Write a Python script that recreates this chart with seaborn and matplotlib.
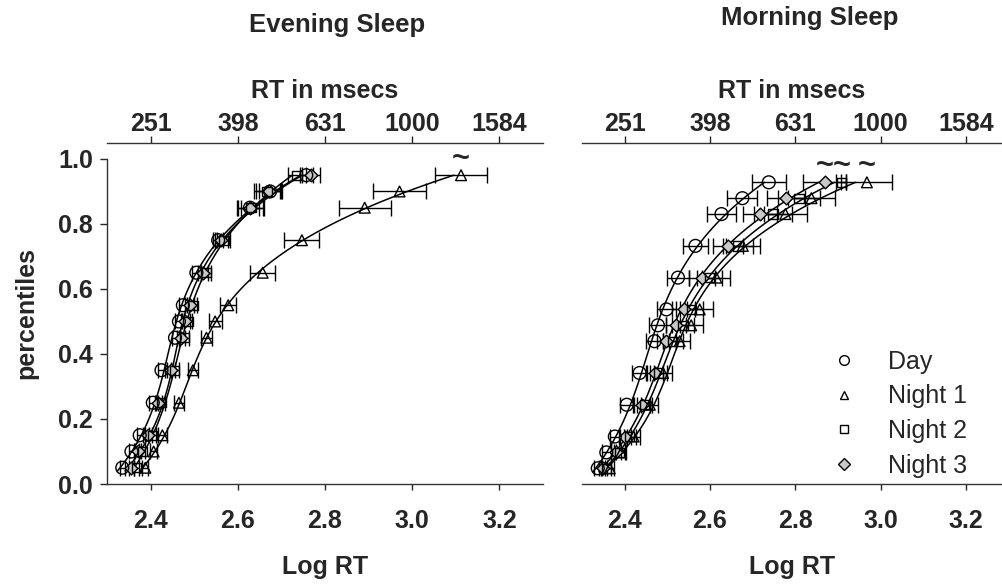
import numpy as np
import pandas as pd
import seaborn as sns
import matplotlib
matplotlib.use("Agg")
import matplotlib.pyplot as plt
from matplotlib.lines import Line2D

# ---------------- data ----------------
percentiles = [0.05, 0.10, 0.15, 0.25, 0.35, 0.45, 0.50, 0.55, 0.65, 0.75, 0.85, 0.90, 0.95]
series_names = ["Day", "Night 1", "Night 2", "Night 3"]

# Evening sleep (log RT)
eve_day = [2.335, 2.356, 2.375, 2.405, 2.425, 2.456, 2.465, 2.474, 2.505, 2.555, 2.628, 2.674, 2.757]
eve_n1 = [2.388, 2.407, 2.427, 2.465, 2.497, 2.528, 2.548, 2.578, 2.657, 2.747, 2.891, 2.971, 3.112]
eve_n2 = [2.368, 2.381, 2.405, 2.425, 2.455, 2.477, 2.486, 2.497, 2.527, 2.568, 2.630, 2.667, 2.736]
eve_n3 = [2.356, 2.372, 2.395, 2.418, 2.447, 2.470, 2.480, 2.490, 2.520, 2.562, 2.628, 2.672, 2.768]
eve_day_err = [0.006, 0.006, 0.007, 0.008, 0.008, 0.008, 0.008, 0.009, 0.010, 0.012, 0.020, 0.025, 0.015]
eve_n1_err = [0.007, 0.008, 0.010, 0.012, 0.012, 0.012, 0.015, 0.019, 0.029, 0.040, 0.060, 0.060, 0.060]
eve_n2_err = [0.006, 0.007, 0.008, 0.009, 0.009, 0.010, 0.010, 0.010, 0.012, 0.015, 0.030, 0.030, 0.020]
eve_n3_err = [0.006, 0.007, 0.008, 0.009, 0.009, 0.010, 0.010, 0.010, 0.012, 0.015, 0.030, 0.030, 0.020]

# Morning sleep (log RT)
mor_day = [2.337, 2.357, 2.377, 2.405, 2.435, 2.470, 2.478, 2.498, 2.525, 2.566, 2.627, 2.676, 2.738]
mor_n1 = [2.365, 2.392, 2.421, 2.459, 2.490, 2.529, 2.556, 2.576, 2.615, 2.677, 2.777, 2.838, 2.968]
mor_n2 = [2.357, 2.388, 2.412, 2.447, 2.480, 2.513, 2.537, 2.556, 2.599, 2.666, 2.748, 2.809, 2.908]
mor_n3 = [2.349, 2.380, 2.400, 2.441, 2.470, 2.498, 2.520, 2.538, 2.582, 2.642, 2.718, 2.779, 2.869]
mor_day_err = [0.008, 0.010, 0.012, 0.015, 0.018, 0.020, 0.020, 0.022, 0.025, 0.030, 0.035, 0.035, 0.040]
mor_n1_err = [0.010, 0.012, 0.015, 0.020, 0.022, 0.025, 0.027, 0.030, 0.033, 0.040, 0.050, 0.055, 0.060]
mor_n2_err = [0.010, 0.012, 0.014, 0.018, 0.020, 0.023, 0.025, 0.027, 0.030, 0.036, 0.045, 0.050, 0.012]
mor_n3_err = [0.010, 0.012, 0.014, 0.018, 0.020, 0.022, 0.024, 0.026, 0.030, 0.035, 0.040, 0.045, 0.050]

# tilde markers (series flagged at the 95th percentile)
eve_tilde = ["Night 1"]
mor_tilde = ["Night 3", "Night 2", "Night 1"]

bottom_ticks = [2.4, 2.6, 2.8, 3.0, 3.2]
bottom_labels = ["2.4", "2.6", "2.8", "3.0", "3.2"]
top_labels = ["251", "398", "631", "1000", "1584"]
y_ticks = [0.0, 0.2, 0.4, 0.6, 0.8, 1.0]
y_labels = ["0.0", "0.2", "0.4", "0.6", "0.8", "1.0"]

# ---------------- style ----------------
sns.set_theme(style="ticks")
plt.rcParams["font.family"] = ["Liberation Sans", "DejaVu Sans"]
plt.rcParams["font.weight"] = "bold"

FS = 18
styles = {
    "Day": dict(marker="o", s=85, fc="none"),
    "Night 1": dict(marker="^", s=60, fc="none"),
    "Night 2": dict(marker="s", s=45, fc="none"),
    "Night 3": dict(marker="D", s=42, fc="#c8c8c8"),
}


def build_df(vals, errs):
    rows = []
    for name, v, e in zip(series_names, vals, errs):
        for p, x, er in zip(percentiles, v, e):
            rows.append(dict(series=name, p=p, logrt=x, err=er))
    return pd.DataFrame(rows)


eve_df = build_df([eve_day, eve_n1, eve_n2, eve_n3], [eve_day_err, eve_n1_err, eve_n2_err, eve_n3_err])
mor_df = build_df([mor_day, mor_n1, mor_n2, mor_n3], [mor_day_err, mor_n1_err, mor_n2_err, mor_n3_err])

W, H = 1002, 585
fig = plt.figure(figsize=(W / 100, H / 100), dpi=100)
axL = fig.add_axes([107 / W, 1 - 484 / H, (543 - 107) / W, (484 - 142.7) / H])
axR = fig.add_axes([582 / W, 1 - 484.2 / H, 420 / W, (484.2 - 142.7) / H])


def draw_panel(ax, df, tildes, xlim, ylim):
    ax.set_xlim(*xlim)
    ax.set_ylim(*ylim)
    order = ["Night 3", "Night 1", "Night 2", "Day"]
    for name in order:
        d = df[df.series == name]
        # smooth fitted curve x(p)
        coef = np.polyfit(d.p.values, d.logrt.values, 3)
        pp = np.linspace(0.04, 0.95, 120)
        xx = np.polyval(coef, pp)
        sns.lineplot(x=xx, y=pp, sort=False, estimator=None, color="black", lw=1.1, ax=ax, zorder=2)
        ax.errorbar(d.logrt, d.p, xerr=d.err, fmt="none", ecolor="black", elinewidth=1.0,
                    capsize=5.5, capthick=1.0, zorder=3)
    for name in order:
        d = df[df.series == name]
        st = styles[name]
        sns.scatterplot(x=d.logrt.values, y=d.p.values, marker=st["marker"], s=st["s"],
                        facecolor=st["fc"], edgecolor="black", linewidth=1.0, ax=ax, zorder=4)
        if name in tildes:
            ax.text(d.logrt.values[-1], 1.0, "~", ha="center", va="center",
                    fontsize=22, fontweight="bold", zorder=5)

    ax.set_xticks(bottom_ticks)
    ax.set_xticklabels(bottom_labels)
    ax.tick_params(axis="x", direction="out", length=4, width=1, pad=14, labelsize=FS)
    for lab in ax.get_xticklabels():
        lab.set_fontweight("bold")
    ax.set_xlabel("Log RT", fontsize=FS, fontweight="bold", labelpad=16)

    sec = ax.secondary_xaxis("top")
    sec.set_xticks(bottom_ticks)
    sec.set_xticklabels(top_labels)
    sec.tick_params(direction="out", length=5, width=1, pad=0, labelsize=FS)
    for lab in sec.get_xticklabels():
        lab.set_fontweight("bold")
    sec.set_xlabel("RT in msecs", fontsize=FS, fontweight="bold", labelpad=10)
    sec.spines["top"].set_linewidth(1.0)
    sec.spines["top"].set_color("#333333")

    for sp in ["top", "right"]:
        ax.spines[sp].set_visible(False)
    ax.spines["bottom"].set_linewidth(1.0)
    ax.spines["bottom"].set_color("#333333")
    ax.spines["left"].set_linewidth(1.0)
    ax.spines["left"].set_color("#333333")


draw_panel(axL, eve_df, eve_tilde, (2.3, 3.3), (0, 1.05))
draw_panel(axR, mor_df, mor_tilde, (2.3, 3.2848), (0, 1.0746))

axL.set_yticks(y_ticks)
axL.set_yticklabels(y_labels)
axL.tick_params(axis="y", direction="out", length=5, width=1, pad=5, labelsize=FS)
for lab in axL.get_yticklabels():
    lab.set_fontweight("bold")
axL.spines["left"].set_bounds(0, 1.0)
axL.set_ylabel("percentiles", fontsize=FS, fontweight="bold", labelpad=14)

axR.spines["left"].set_visible(False)
axR.set_yticks([])
axR.set_ylabel("")

# legend
handles = [
    Line2D([], [], ls="none", marker="o", ms=7, mfc="none", mec="black", mew=1.0),
    Line2D([], [], ls="none", marker="^", ms=6, mfc="none", mec="black", mew=1.0),
    Line2D([], [], ls="none", marker="s", ms=6, mfc="none", mec="black", mew=1.0),
    Line2D([], [], ls="none", marker="D", ms=6, mfc="#c8c8c8", mec="black", mew=1.0),
]
leg = axR.legend(handles, series_names, loc="upper left", bbox_to_anchor=(825 / W, 1 - 350 / H),
                 bbox_transform=fig.transFigure, frameon=False, borderaxespad=0, borderpad=0,
                 handlelength=1.5, handletextpad=1.0, labelspacing=0.42,
                 prop=dict(family="Liberation Sans", size=18, weight="normal"))

fig.text(337 / W, 1 - 25 / H, "Evening Sleep", ha="center", va="center", fontsize=18.5, fontweight="bold")
fig.text(810 / W, 1 - 18 / H, "Morning Sleep", ha="center", va="center", fontsize=18.5, fontweight="bold")

fig.savefig("out.png", dpi=100)
